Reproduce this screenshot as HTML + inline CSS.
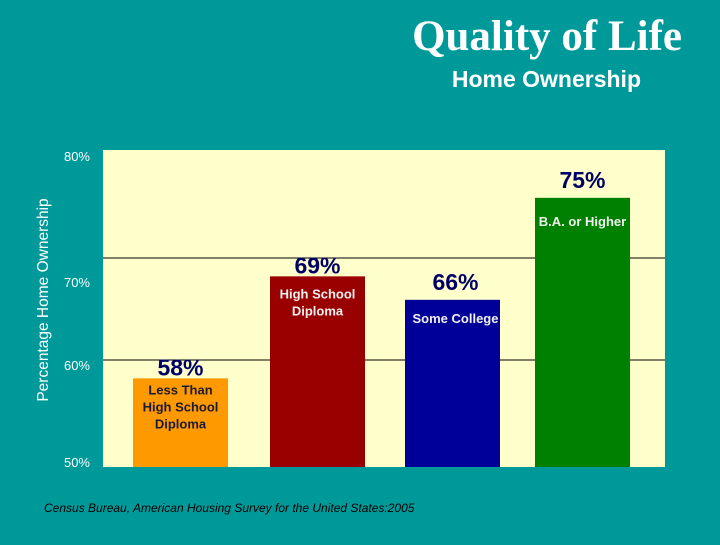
<!DOCTYPE html>
<html><head><meta charset="utf-8"><style>
body{margin:0;width:720px;height:540px;background:#009999;overflow:hidden;font-family:"Liberation Sans",sans-serif;}
</style></head><body>
<svg width="720" height="540">
<text x="682" y="50" text-anchor="end" font-family="Liberation Serif" font-weight="bold" font-size="43" fill="#fff">Quality of Life</text>
<text x="641" y="87" text-anchor="end" font-size="23" fill="#fff" font-weight="bold">Home Ownership</text>
<rect x="103" y="150" width="562" height="317" fill="#FFFFCC"/>
<g id="grid"></g><g id="bars"></g><g id="labels"></g>
<text transform="translate(48,300) rotate(-90)" text-anchor="middle" font-size="15.5" fill="#fff">Percentage Home Ownership</text>
<text x="44" y="512" font-size="12" font-style="italic" fill="#000">Census Bureau, American Housing Survey for the United States:2005</text>
</svg>
<script>
const categories=[["Less Than","High School","Diploma"],["High School","Diploma"],["Some College"],["B.A. or Higher"]];
const values=[58.2,68.2,65.9,75.9];
const printed=["58%","69%","66%","75%"];
const ticks=[50,60,70,80];
const tickLabels=["50%","60%","70%","80%"];
const gridValues=[60,70];
const colors=["#FF9900","#990000","#000099","#008000"];
const ns="http://www.w3.org/2000/svg";
function y(v){return 360-(v-60)*10.2;}
const tickY=[467,370,287,161];
const bx=[133,270,405,535], bw=95, base=467;
function mk(t,a,p){const e=document.createElementNS(ns,t);for(const k in a)e.setAttribute(k,a[k]);p.appendChild(e);return e;}
const g=document.getElementById('grid');
gridValues.forEach(t=>{
 const l=mk('line',{x1:103,x2:665,y1:y(t),y2:y(t),stroke:'#000','stroke-width':1},g);
 
 
});
ticks.forEach((t,i)=>{
 const tx=mk('text',{x:90,y:tickY[i],'text-anchor':'end','font-size':13,fill:'#fff'},g);
 tx.textContent=tickLabels[i];
 
 
});
const B=document.getElementById('bars'),L=document.getElementById('labels');
const vOff=[3,3,10,10], cOff=[16,22,23,28];
values.forEach((v,i)=>{
 const top=y(v);
 const r=mk('rect',{x:bx[i],y:top,width:bw,height:base-top,fill:colors[i]},B);
 
 
 const cx=bx[i]+bw/2+(i==2?3:0);
 const t=mk('text',{x:cx,y:top-vOff[i],'text-anchor':'middle','font-size':23,'font-weight':'bold',fill:'#000066'},L);
 t.textContent=printed[i];
 
 
 categories[i].forEach((s,j)=>{
  const c=mk('text',{x:cx,y:top+cOff[i]+j*17,'text-anchor':'middle','font-size':13,'font-weight':'bold',fill:i==0?'#1a1a33':'#f0f0f0'},L);
  c.textContent=s;
  
  
 });
});
</script>
</body></html>
